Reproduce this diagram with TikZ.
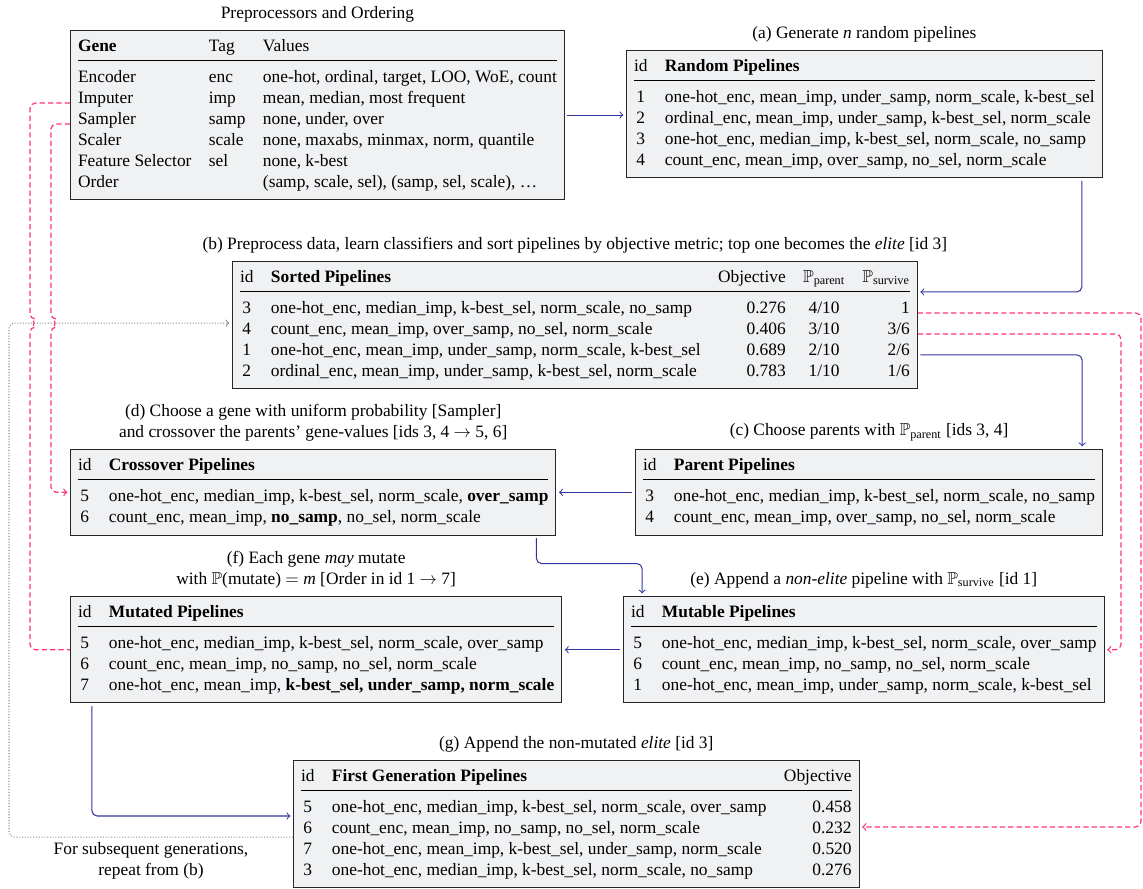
\documentclass[tikz,border=0pt]{standalone}
\usepackage{amsmath,amssymb}
\usepackage{fontspec}
\setmainfont{Liberation Serif}
\definecolor{flowblue}{RGB}{52,52,160}
\definecolor{flowpink}{RGB}{255,51,119}
\definecolor{boxfill}{RGB}{240,241,243}
\setlength{\tabcolsep}{5pt}
\newcommand{\headrule}{\\\noalign{\vskip1.6pt}\hline\noalign{\vskip4.2pt}}
\begin{document}
\begin{tikzpicture}[x=0.575pt, y=-0.575pt,
  tbl/.style={draw=black!85, fill=boxfill, line width=0.6pt, inner xsep=4.3pt, inner ysep=3.5pt, anchor=north west},
  lbl/.style={anchor=south, inner sep=0pt, align=center},
  flow/.style={->, flowblue, line width=0.6pt, rounded corners=3pt, shorten <=1.5pt, shorten >=1.5pt},
  pinkline/.style={flowpink, line width=0.7pt, dash pattern=on 3pt off 1.8pt, rounded corners=3pt},
  pinkflow/.style={pinkline, ->, shorten >=1.5pt},
  backflow/.style={->, black!45, densely dotted, line width=0.6pt, rounded corners=3pt, shorten >=1.5pt}]
  \useasboundingbox (0,0) rectangle (1143,889);

  %% tables
  \node [tbl] (gene) at (70,30) {\begin{tabular}{@{}lll@{}}
    \textbf{Gene} & Tag & Values\headrule
    Encoder & enc & one-hot, ordinal, target, LOO, WoE, count\\
    Imputer & imp & mean, median, most frequent\\
    Sampler & samp & none, under, over\\
    Scaler & scale & none, maxabs, minmax, norm, quantile\\
    Feature Selector & sel & none, k-best\\
    Order & & (samp, scale, sel), (samp, sel, scale), \ldots
  \end{tabular}};
  \node [tbl] (random) at (626,50) {\begin{tabular}{@{}cl@{}}
    id & \textbf{Random Pipelines}\headrule
    1 & one-hot\_enc, mean\_imp, under\_samp, norm\_scale, k-best\_sel\\
    2 & ordinal\_enc, mean\_imp, under\_samp, k-best\_sel, norm\_scale\\
    3 & one-hot\_enc, median\_imp, k-best\_sel, norm\_scale, no\_samp\\
    4 & count\_enc, mean\_imp, over\_samp, no\_sel, norm\_scale
  \end{tabular}};
  \node [tbl] (sorted) at (232,261) {\begin{tabular}{@{}clrcr@{}}
    id & \textbf{Sorted Pipelines} & Objective & $\mathbb{P}_{\text{parent}}$ & $\mathbb{P}_{\text{survive}}$\headrule
    3 & one-hot\_enc, median\_imp, k-best\_sel, norm\_scale, no\_samp & 0.276 & 4/10 & 1\\
    4 & count\_enc, mean\_imp, over\_samp, no\_sel, norm\_scale & 0.406 & 3/10 & 3/6\\
    1 & one-hot\_enc, mean\_imp, under\_samp, norm\_scale, k-best\_sel & 0.689 & 2/10 & 2/6\\
    2 & ordinal\_enc, mean\_imp, under\_samp, k-best\_sel, norm\_scale & 0.783 & 1/10 & 1/6
  \end{tabular}};
  \node [tbl] (parent) at (635,449) {\begin{tabular}{@{}cl@{}}
    id & \textbf{Parent Pipelines}\headrule
    3 & one-hot\_enc, median\_imp, k-best\_sel, norm\_scale, no\_samp\\
    4 & count\_enc, mean\_imp, over\_samp, no\_sel, norm\_scale
  \end{tabular}};
  \node [tbl] (crossover) at (70,449) {\begin{tabular}{@{}cl@{}}
    id & \textbf{Crossover Pipelines}\headrule
    5 & one-hot\_enc, median\_imp, k-best\_sel, norm\_scale, \textbf{over\_samp}\\
    6 & count\_enc, mean\_imp, \textbf{no\_samp}, no\_sel, norm\_scale
  \end{tabular}};
  \node [tbl] (mutated) at (70,596) {\begin{tabular}{@{}cl@{}}
    id & \textbf{Mutated Pipelines}\headrule
    5 & one-hot\_enc, median\_imp, k-best\_sel, norm\_scale, over\_samp\\
    6 & count\_enc, mean\_imp, no\_samp, no\_sel, norm\_scale\\
    7 & one-hot\_enc, mean\_imp, \textbf{k-best\_sel, under\_samp, norm\_scale}
  \end{tabular}};
  \node [tbl] (mutable) at (623,596) {\begin{tabular}{@{}cl@{}}
    id & \textbf{Mutable Pipelines}\headrule
    5 & one-hot\_enc, median\_imp, k-best\_sel, norm\_scale, over\_samp\\
    6 & count\_enc, mean\_imp, no\_samp, no\_sel, norm\_scale\\
    1 & one-hot\_enc, mean\_imp, under\_samp, norm\_scale, k-best\_sel
  \end{tabular}};
  \node [tbl] (firstgen) at (293,760) {\begin{tabular}{@{}clr@{}}
    id & \textbf{First Generation Pipelines} & Objective\headrule
    5 & one-hot\_enc, median\_imp, k-best\_sel, norm\_scale, over\_samp & 0.458\\
    6 & count\_enc, mean\_imp, no\_samp, no\_sel, norm\_scale & 0.232\\
    7 & one-hot\_enc, mean\_imp, k-best\_sel, under\_samp, norm\_scale & 0.520\\
    3 & one-hot\_enc, median\_imp, k-best\_sel, norm\_scale, no\_samp & 0.276
  \end{tabular}};

  %% captions
  \node [lbl] (lblgene) at ([yshift=4.5pt]gene.north) {Preprocessors and Ordering};
  \node [lbl] (lblrandom) at ([yshift=4.5pt]random.north) {(a) Generate \textit{n} random pipelines};
  \node [lbl] (lblsorted) at ([yshift=4.5pt]sorted.north) {(b) Preprocess data, learn classifiers and sort pipelines by objective metric; top one becomes the \textit{elite} [id 3]};
  \node [lbl] (lblparent) at ([yshift=4.5pt]parent.north) {(c) Choose parents with $\mathbb{P}_{\text{parent}}$ [ids 3, 4]};
  \node [lbl] (lblcross) at ([yshift=4.5pt]crossover.north) {(d) Choose a gene with uniform probability [Sampler]\\and crossover the parents' gene-values [ids 3, 4 $\rightarrow$ 5, 6]};
  \node [lbl] (lblmutable) at ([yshift=4.5pt]mutable.north) {(e) Append a \textit{non-elite} pipeline with $\mathbb{P}_{\text{survive}}$ [id 1]};
  \node [lbl] (lblmutated) at ([yshift=4.5pt]mutated.north) {(f) Each gene \textit{may} mutate\\with $\mathbb{P}$(mutate) $=$ \textit{m} [Order in id 1 $\rightarrow$ 7]};
  \node [lbl] (lblfirst) at ([yshift=4.5pt]firstgen.north) {(g) Append the non-mutated \textit{elite} [id 3]};
  \node [align=center] (again) at (151,861) {For subsequent generations,\\repeat from (b)};

  %% main flow
  \draw [flow] (gene.east) -- (gene.east -| random.west);
  \draw [flow] ([xshift=-12pt]random.south east) |- ([yshift=-17.8pt]sorted.north east);
  \draw [flow] ([yshift=-54pt]sorted.north east) -| ([xshift=-12pt]parent.north east);
  \draw [flow] (parent.west) -- (parent.west -| crossover.east);
  \draw [flow] ([xshift=-11.5pt]crossover.south east) -- ++(0,28) -| ([xshift=11pt]mutable.north west);
  \draw [flow] (mutable.west) -- (mutable.west -| mutated.east);
  \draw [flow] ([xshift=12.6pt]mutated.south west) |- ([yshift=-32.2pt]firstgen.north west);

  %% gene links and elite paths
  \draw [pinkline] ([yshift=-42pt]gene.north west) -| (30,319) arc [start angle=90, end angle=-90, radius=2.3pt] |- (mutated.west);
  \draw [pinkflow] ([yshift=-54pt]gene.north west) -| (51,319) arc [start angle=90, end angle=-90, radius=2.3pt] |- (crossover.west);
  \draw [pinkflow] ([yshift=-29.9pt]sorted.north east) -| (1141,600) |- ([yshift=-38.5pt]firstgen.north east);
  \draw [pinkflow] ([yshift=-42pt]sorted.north east) -| (1121,500) |- (mutable.east);

  %% next generation
  \draw [backflow] ([yshift=-44.3pt]firstgen.north west) -| (9,600) |- ([yshift=-35.7pt]sorted.north west);
\end{tikzpicture}
\end{document}
